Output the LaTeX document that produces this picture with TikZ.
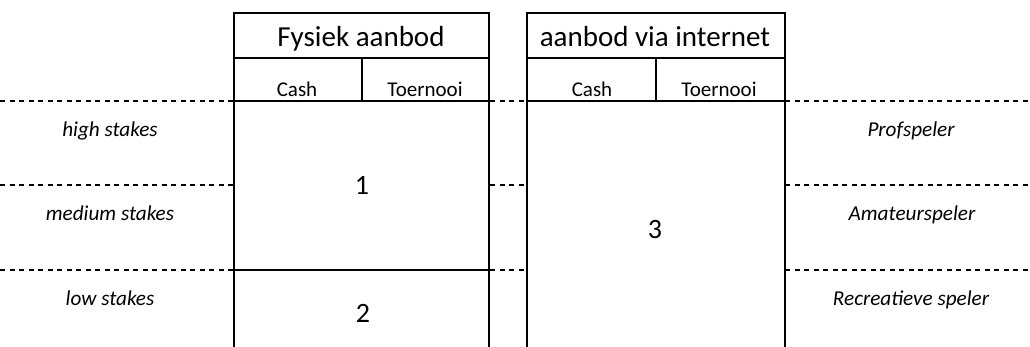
\documentclass[tikz,border=0pt]{standalone}
\usepackage{fontspec}
\setmainfont{Carlito}
\usepackage{tikz}
\tikzstyle{frame}=[line width=2.8pt]
\tikzstyle{divider}=[line width=2.4pt]
\tikzstyle{band}=[line width=2pt, dash pattern=on 5pt off 4.5pt]
\tikzstyle{title}=[anchor=base, inner sep=0pt, font=\fontsize{29}{32}\selectfont]
\tikzstyle{colhead}=[anchor=base, inner sep=0pt, font=\fontsize{21}{25}\selectfont]
\tikzstyle{level}=[anchor=base, inner sep=0pt, font=\itshape\fontsize{21.2}{25}\selectfont]
\tikzstyle{segment}=[anchor=base, inner sep=0pt, font=\fontsize{28}{31}\selectfont]

\begin{document}
\begin{tikzpicture}[x=1pt, y=-1pt]
\useasboundingbox (0,0) rectangle (1030,347);

% dashed bands
\foreach \y in {101,185,270}
{
	\draw [band] (0,\y) -- (234,\y);
	\draw [band] (490,\y) -- (527,\y);
	\draw [band] (785,\y) -- (1030,\y);
}

% fysiek aanbod
\draw [frame] (234,347) -- (234,13) -- (489,13) -- (489,347);
\draw [divider] (234,58) -- (489,58);
\draw [divider] (234,101) -- (489,101);
\draw [divider] (362,58) -- (362,101);
\draw [divider] (234,270) -- (489,270);
\node [title] (fysiek) at (361,47) {Fysiek aanbod};
\node [colhead] (fcash) at (297,97) {Cash};
\node [colhead] (ftoernooi) at (425,97) {Toernooi};
\node [segment] (seg1) at (362,195) {1};
\node [segment] (seg2) at (363,322) {2};

% aanbod via internet
\draw [frame] (527,347) -- (527,13) -- (785,13) -- (785,347);
\draw [divider] (527,58) -- (785,58);
\draw [divider] (527,101) -- (785,101);
\draw [divider] (656,58) -- (656,101);
\node [title] (internet) at (655,47) {aanbod via internet};
\node [colhead] (icash) at (592,97) {Cash};
\node [colhead] (itoernooi) at (719,97) {Toernooi};
\node [segment] (seg3) at (655,239) {3};

% levels
\node [level] (high) at (110,137) {high stakes};
\node [level] (medium) at (110,221) {medium stakes};
\node [level] (low) at (110,305) {low stakes};
\node [level] (prof) at (911,137) {Profspeler};
\node [level] (amateur) at (912,221) {Amateurspeler};
\node [level] (recreatief) at (911,305) {Recreatieve speler};
\end{tikzpicture}
\end{document}
